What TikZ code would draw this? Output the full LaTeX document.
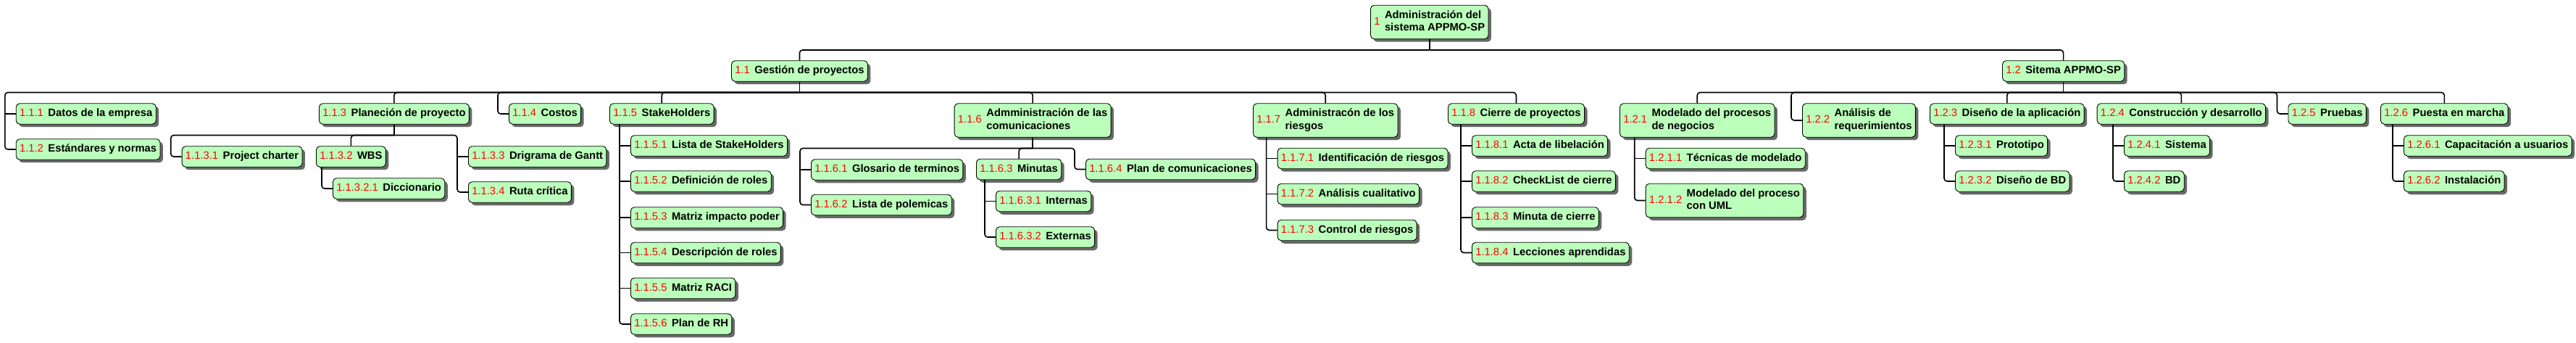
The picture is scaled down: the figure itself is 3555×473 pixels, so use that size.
\documentclass[tikz,border=0pt]{standalone}
\usepackage{fontspec}
\setmainfont{Liberation Sans}
\usetikzlibrary{shadows}
\definecolor{wbsfill}{RGB}{188,255,188}
\definecolor{wbsshade}{RGB}{105,105,105}
\newcommand{\wbs}[2]{\textcolor{red}{#1}\hspace{6.5pt}{\bfseries\begin{tabular}[c]{@{}l@{}}#2\end{tabular}}}
\tikzset{
  wbsbox/.style={draw=black,line width=0.9pt,fill=wbsfill,rounded corners=5pt,anchor=west,
    inner xsep=4.8pt,inner ysep=0pt,minimum height=28.5pt,
    general shadow={fill=wbsshade,shadow xshift=4pt,shadow yshift=-4pt}},
  wbsbox2/.style={wbsbox,minimum height=46.5pt},
  conn/.style={draw=black,line width=1.6pt,rounded corners=4pt}
}
\begin{document}
\begin{tikzpicture}[x=1pt,y=-1pt,font=\fontsize{14.8}{17.7}\selectfont]
\useasboundingbox (0,0) rectangle (3555,473);
\node[wbsbox2] (n1) at (1891,30.5) {\wbs{1}{Administración del\\sistema APPMO-SP}};
\node[wbsbox] (n11) at (1009,98) {\wbs{1.1}{Gestión de proyectos}};
\node[wbsbox] (n12) at (2763,98) {\wbs{1.2}{Sitema APPMO-SP}};
% 1.1
\node[wbsbox] (n111) at (21.8,157) {\wbs{1.1.1}{Datos de la empresa}};
\node[wbsbox] (n112) at (21.8,206) {\wbs{1.1.2}{Estándares y normas}};
\node[wbsbox] (n113) at (440,157) {\wbs{1.1.3}{Planeción de proyecto}};
\node[wbsbox] (n1131) at (250.7,216) {\wbs{1.1.3.1}{Project charter}};
\node[wbsbox] (n1132) at (436,216) {\wbs{1.1.3.2}{WBS}};
\node[wbsbox] (n11321) at (459,260) {\wbs{1.1.3.2.1}{Diccionario}};
\node[wbsbox] (n1133) at (646,216) {\wbs{1.1.3.3}{Drigrama de Gantt}};
\node[wbsbox] (n1134) at (646,265) {\wbs{1.1.3.4}{Ruta crítica}};
\node[wbsbox] (n114) at (702,157) {\wbs{1.1.4}{Costos}};
\node[wbsbox] (n115) at (841,157) {\wbs{1.1.5}{StakeHolders}};
\node[wbsbox] (n1151) at (870,201) {\wbs{1.1.5.1}{Lista de StakeHolders}};
\node[wbsbox] (n1152) at (870,250) {\wbs{1.1.5.2}{Definición de roles}};
\node[wbsbox] (n1153) at (870,300) {\wbs{1.1.5.3}{Matriz impacto poder}};
\node[wbsbox] (n1154) at (870,348.5) {\wbs{1.1.5.4}{Descripción de roles}};
\node[wbsbox] (n1155) at (870,397.5) {\wbs{1.1.5.5}{Matriz RACI}};
\node[wbsbox] (n1156) at (870,447) {\wbs{1.1.5.6}{Plan de RH}};
\node[wbsbox2] (n116) at (1316.7,166) {\wbs{1.1.6}{Admministración de las\\comunicaciones}};
\node[wbsbox] (n1161) at (1119,234) {\wbs{1.1.6.1}{Glosario de terminos}};
\node[wbsbox] (n1162) at (1119,282.5) {\wbs{1.1.6.2}{Lista de polemicas}};
\node[wbsbox] (n1163) at (1347,233.5) {\wbs{1.1.6.3}{Minutas}};
\node[wbsbox] (n11631) at (1374,277.5) {\wbs{1.1.6.3.1}{Internas}};
\node[wbsbox] (n11632) at (1374,327) {\wbs{1.1.6.3.2}{Externas}};
\node[wbsbox] (n1164) at (1498,233.5) {\wbs{1.1.6.4}{Plan de comunicaciones}};
\node[wbsbox2] (n117) at (1729,166) {\wbs{1.1.7}{Administracón de los\\riesgos}};
\node[wbsbox] (n1171) at (1762.6,218.5) {\wbs{1.1.7.1}{Identificación de riesgos}};
\node[wbsbox] (n1172) at (1762.6,267.5) {\wbs{1.1.7.2}{Análisis cualitativo}};
\node[wbsbox] (n1173) at (1762.6,317.5) {\wbs{1.1.7.3}{Control de riesgos}};
\node[wbsbox] (n118) at (1998,157) {\wbs{1.1.8}{Cierre de proyectos}};
\node[wbsbox] (n1181) at (2031,201) {\wbs{1.1.8.1}{Acta de libelación}};
\node[wbsbox] (n1182) at (2031,250) {\wbs{1.1.8.2}{CheckList de cierre}};
\node[wbsbox] (n1183) at (2031,300) {\wbs{1.1.8.3}{Minuta de cierre}};
\node[wbsbox] (n1184) at (2031,348.5) {\wbs{1.1.8.4}{Lecciones aprendidas}};
% 1.2
\node[wbsbox2] (n121) at (2235,166) {\wbs{1.2.1}{Modelado del procesos\\de negocios}};
\node[wbsbox] (n1211) at (2270.7,218.5) {\wbs{1.2.1.1}{Técnicas de modelado}};
\node[wbsbox2] (n1212) at (2270.7,276.5) {\wbs{1.2.1.2}{Modelado del proceso\\con UML}};
\node[wbsbox2] (n122) at (2487,166) {\wbs{1.2.2}{Análisis de\\requerimientos}};
\node[wbsbox] (n123) at (2663,157) {\wbs{1.2.3}{Diseño de la aplicación}};
\node[wbsbox] (n1231) at (2698,201) {\wbs{1.2.3.1}{Prototipo}};
\node[wbsbox] (n1232) at (2698,250) {\wbs{1.2.3.2}{Diseño de BD}};
\node[wbsbox] (n124) at (2893.7,157) {\wbs{1.2.4}{Construcción y desarrollo}};
\node[wbsbox] (n1241) at (2931,201) {\wbs{1.2.4.1}{Sistema}};
\node[wbsbox] (n1242) at (2931,250) {\wbs{1.2.4.2}{BD}};
\node[wbsbox] (n125) at (3157.5,157) {\wbs{1.2.5}{Pruebas}};
\node[wbsbox] (n126) at (3285,157) {\wbs{1.2.6}{Puesta en marcha}};
\node[wbsbox] (n1261) at (3317,201) {\wbs{1.2.6.1}{Capacitación a usuarios}};
\node[wbsbox] (n1262) at (3317,250) {\wbs{1.2.6.2}{Instalación}};
% buses and rails
\path (0,69) coordinate (b1) (0,127.5) coordinate (b11) (0,127.5) coordinate (b12)
  (0,186.5) coordinate (b113) (0,204.5) coordinate (b116);
\path ([xshift=-15pt]n111.west) coordinate (r111) ([xshift=-15pt]n1131.west) coordinate (r1131)
  ([xshift=-15pt]n11321.west) coordinate (r1132) ([xshift=-15pt]n1133.west) coordinate (r1133)
  ([xshift=-15pt]n114.west) coordinate (r114) ([xshift=-15pt]n1151.west) coordinate (r115)
  ([xshift=-15pt]n1161.west) coordinate (r1161) ([xshift=-15pt]n11631.west) coordinate (r1163)
  ([xshift=-15pt]n1164.west) coordinate (r1164) ([xshift=-15pt]n1171.west) coordinate (r117)
  ([xshift=-15pt]n1181.west) coordinate (r118) ([xshift=-15pt]n1211.west) coordinate (r121)
  ([xshift=-15pt]n122.west) coordinate (r122) ([xshift=-15pt]n1231.west) coordinate (r123)
  ([xshift=-15pt]n1241.west) coordinate (r124) ([xshift=-15pt]n125.west) coordinate (r125)
  ([xshift=-15pt]n1261.west) coordinate (r126);
% root
\draw[conn] (n1.south) -- (n1.south |- b1);
\draw[conn] (n1.south |- b1) -| (n11.north);
\draw[conn] (n1.south |- b1) -| (n12.north);
% 1.1
\draw[conn] (n11.south) -- (n11.south |- b11);
\draw[conn] (n11.south |- b11) -| (r111) |- (n112.west);
\draw[conn] (r111) -- (n111.west);
\draw[conn] (n11.south |- b11) -| (r114) -- (n114.west);
\foreach \c in {n113,n115,n116,n117,n118} \draw[conn] (n11.south |- b11) -| (\c.north);
% 1.1.3
\draw[conn] (n113.south) -- (n113.south |- b113);
\draw[conn] (n113.south |- b113) -| (r1131) -- (n1131.west);
\draw[conn] (n113.south |- b113) -| (n1132.north);
\draw[conn] (n113.south |- b113) -| (r1133) |- (n1134.west);
\draw[conn] (r1133) -- (n1133.west);
\draw[conn] (r1132 |- n1132.south) |- (n11321.west);
% 1.1.5
\draw[conn] (r115 |- n115.south) |- (n1156.west);
\foreach \c in {n1151,n1152,n1153,n1154,n1155} \draw[conn] (r115 |- \c.west) -- (\c.west);
% 1.1.6
\draw[conn] (n116.south) -- (n116.south |- b116);
\draw[conn] (n116.south |- b116) -| (r1161) |- (n1162.west);
\draw[conn] (r1161) -- (n1161.west);
\draw[conn] (n116.south |- b116) -| (n1163.north);
\draw[conn] (n116.south |- b116) -| (r1164) -- (n1164.west);
\draw[conn] (r1163 |- n1163.south) |- (n11632.west);
\draw[conn] (r1163) -- (n11631.west);
% 1.1.7 and 1.1.8
\draw[conn] (r117 |- n117.south) |- (n1173.west);
\foreach \c in {n1171,n1172} \draw[conn] (r117 |- \c.west) -- (\c.west);
\draw[conn] (r118 |- n118.south) |- (n1184.west);
\foreach \c in {n1181,n1182,n1183} \draw[conn] (r118 |- \c.west) -- (\c.west);
% 1.2
\draw[conn] (n12.south) -- (n12.south |- b12);
\foreach \c in {n121,n123,n124,n126} \draw[conn] (n12.south |- b12) -| (\c.north);
\draw[conn] (n12.south |- b12) -| (r122) -- (n122.west);
\draw[conn] (n12.south |- b12) -| (r125) -- (n125.west);
\draw[conn] (r121 |- n121.south) |- (n1212.west);
\draw[conn] (r121) -- (n1211.west);
\draw[conn] (r123 |- n123.south) |- (n1232.west);
\draw[conn] (r123) -- (n1231.west);
\draw[conn] (r124 |- n124.south) |- (n1242.west);
\draw[conn] (r124) -- (n1241.west);
\draw[conn] (r126 |- n126.south) |- (n1262.west);
\draw[conn] (r126) -- (n1261.west);
\end{tikzpicture}
\end{document}
